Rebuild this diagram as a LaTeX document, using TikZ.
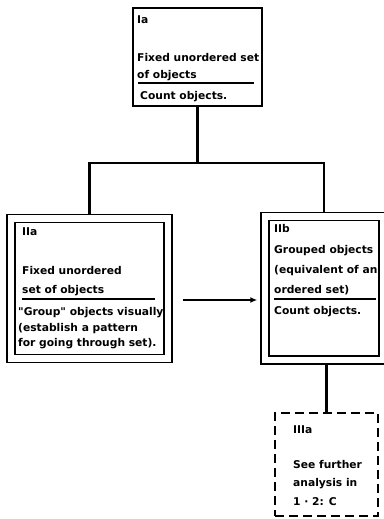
\documentclass[tikz,border=0pt]{standalone}
\usepackage{fontspec}
\setmainfont{DejaVu Sans}[Ligatures=TeXOff]
\usetikzlibrary{arrows.meta}
\begin{document}
\begin{tikzpicture}[x=1pt,y=-1pt,
  txt/.style={anchor=base west, inner sep=0pt, font=\fontsize{10.7}{13}\selectfont\bfseries},
  plainbox/.style={draw, rectangle, line width=1.7pt, inner sep=0pt},
  dblbox/.style={draw, rectangle, double, double distance=6.2pt, line width=1.5pt, inner sep=0pt},
  dashbox/.style={draw, rectangle, line width=1.9pt, dash pattern=on 9pt off 5pt, inner sep=0pt},
  bus/.style={line width=2.7pt},
  rulestyle/.style={line width=1.2pt},
  flow/.style={line width=1.9pt, -{Latex[length=7pt,width=6pt]}}]

\useasboundingbox (0,0) rectangle (383,519);

% boxes
\node[plainbox, minimum width=129pt, minimum height=98pt] (Ia) at (197.5,57) {};
\node[dblbox, minimum width=157pt, minimum height=140pt] (IIa) at (89.5,288.5) {};
\node[dblbox, minimum width=118pt, minimum height=143.5pt] (IIb) at (324,288.25) {};
\node[dashbox, minimum width=103pt, minimum height=103pt] (IIIa) at (326.5,464.5) {};

% box Ia
\node[txt] (IaL) at (137,24) {Ia};
\node[txt] (IaA) at (137,62) {Fixed unordered set};
\node[txt] (IaB) at (137,78) {of objects};
\draw[rulestyle] (138,83) -- (254,83);
\node[txt] (IaC) at (140,99) {Count objects.};

% box IIa
\node[txt] (IIaL) at (22,235) {IIa};
\node[txt] (IIaA) at (22,274) {Fixed unordered};
\node[txt] (IIaB) at (22,293) {set of objects};
\draw[rulestyle] (22,299) -- (155,299);
\node[txt] (IIaC) at (18,315) {"Group" objects visually};
\node[txt] (IIaD) at (18,331) {(establish a pattern};
\node[txt] (IIaE) at (18,346) {for going through set).};

% box IIb
\node[txt] (IIbL) at (274,232) {IIb};
\node[txt] (IIbA) at (274,253) {Grouped objects};
\node[txt] (IIbB) at (274,273) {(equivalent of an};
\node[txt] (IIbC) at (274,293) {ordered set)};
\draw[rulestyle] (274,299) -- (376,299);
\node[txt] (IIbD) at (274,314) {Count objects.};

% box IIIa
\node[txt] (IIIaL) at (293,433) {IIIa};
\node[txt] (IIIaA) at (293,468) {See further};
\node[txt] (IIIaB) at (293,486) {analysis in};
\node[txt] (IIIaC) at (293,505) {1 · 2: C};

% tree connectors
\coordinate (busY) at (0,163);
\coordinate (arrowY) at (0,300);
\draw[bus] (Ia.south) -- (Ia.south |- busY) coordinate (hub);
\draw[bus, shorten <=3.6pt, shorten >=3.6pt] (IIa.north) |- (hub) -| (IIb.north);
\draw[bus, shorten >=3.6pt] (IIIa.north) -- (IIIa.north |- IIb.south);

% flow arrow
\draw[flow, shorten <=14pt, shorten >=7pt] (IIa.east |- arrowY) -- (IIb.west |- arrowY);
\end{tikzpicture}
\end{document}
